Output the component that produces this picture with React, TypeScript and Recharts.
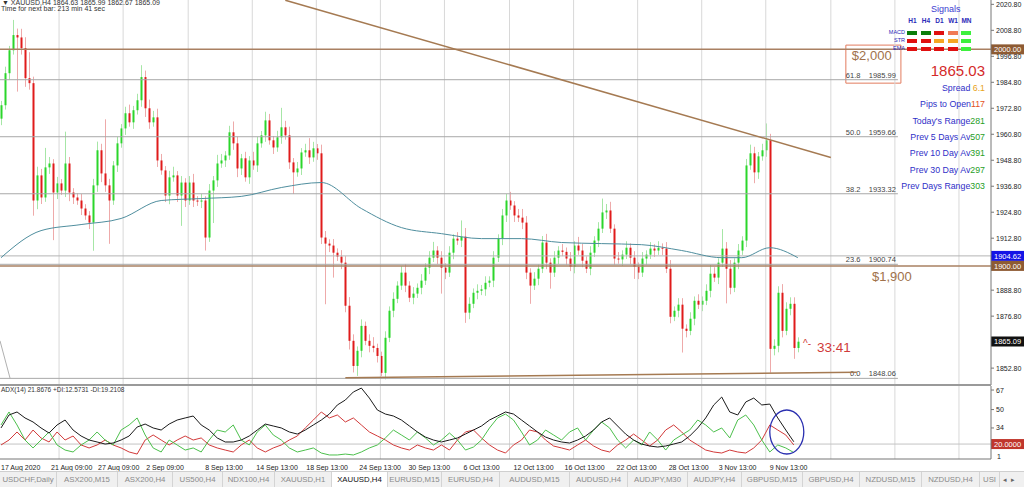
import React from 'react';
import { ComposedChart, Bar, Line, XAxis, YAxis, ReferenceLine, ReferenceArea, ReferenceDot } from 'recharts';

// XAUUSD H4 closes, left to right (one candle per 4px slot)
const closes = [
  1974.2, 1989.0, 1999.6, 2006.6, 2005.5, 2000.6, 1986.7, 1984.4, 1930.2, 1941.8,
  1931.6, 1945.5, 1947.3, 1933.9, 1938.1, 1934.8, 1947.3, 1933.9, 1931.6, 1930.2,
  1926.5, 1923.3, 1920.0, 1937.2, 1953.4, 1942.7, 1937.2, 1930.2, 1946.4, 1956.6,
  1963.5, 1970.5, 1966.3, 1971.9, 1976.5, 1987.2, 1972.8, 1966.3, 1968.6, 1948.7,
  1944.1, 1932.5, 1940.9, 1941.8, 1932.5, 1938.5, 1930.2, 1938.5, 1930.2, 1929.7,
  1930.2, 1913.1, 1934.8, 1939.5, 1947.3, 1948.7, 1951.0, 1961.7, 1956.6, 1945.0,
  1949.7, 1940.9, 1948.7, 1946.4, 1956.6, 1960.3, 1967.2, 1958.0, 1954.7, 1959.4,
  1964.0, 1960.3, 1947.8, 1943.2, 1945.0, 1952.4, 1953.4, 1950.1, 1954.3, 1952.0,
  1913.1, 1910.3, 1909.4, 1906.1, 1904.3, 1901.5, 1881.6, 1865.4, 1853.8, 1860.8,
  1872.3, 1865.4, 1863.1, 1862.1, 1858.4, 1850.6, 1866.8, 1879.3, 1884.8, 1890.9,
  1896.9, 1890.9, 1885.3, 1887.2, 1889.9, 1893.2, 1899.2, 1903.8, 1907.1, 1903.8,
  1899.2, 1896.9, 1906.1, 1912.6, 1911.7, 1913.5, 1878.4, 1882.5, 1887.6, 1888.5,
  1889.2, 1892.2, 1893.2, 1903.8, 1912.6, 1923.3, 1930.2, 1927.9, 1923.3, 1922.3,
  1920.0, 1896.9, 1890.9, 1894.1, 1898.7, 1910.8, 1901.5, 1896.9, 1903.8, 1907.1,
  1906.5, 1903.4, 1899.6, 1909.4, 1907.1, 1902.4, 1898.7, 1906.1, 1911.7, 1917.2,
  1924.7, 1925.6, 1917.2, 1903.4, 1903.0, 1905.2, 1908.4, 1903.8, 1899.6, 1896.9,
  1903.4, 1905.2, 1908.0, 1907.1, 1908.4, 1908.0, 1898.7, 1876.5, 1879.3, 1882.1,
  1871.0, 1870.0, 1875.6, 1883.9, 1882.1, 1883.9, 1888.5, 1896.4, 1894.6, 1901.5,
  1908.0, 1898.7, 1889.9, 1901.5, 1907.1, 1911.7, 1946.4, 1952.0, 1943.2, 1950.6,
  1953.4, 1958.0, 1861.7, 1863.1, 1887.6, 1870.0, 1880.2, 1882.5, 1862.1, 1865.0,
];
const firstOpen = 1968.0;

// upper / lower wick lengths (price units) for each candle
const wickHi = [
  2, 3, 2, 7, 3, 4, 5, 12, 3, 4,
  3, 9, 3, 2, 3, 2, 14.7, 3, 2, 2,
  3, 2, 2, 3, 4, 3, 25, 3, 2, 3,
  2, 3, 4, 2, 3, 5.5, 3, 4, 3, 4,
  3, 2, 3, 4, 2, 3, 2, 3, 4, 2,
  3, 2, 3, 2, 4, 3, 2, 3, 5, 3,
  2, 3, 2, 4, 3, 2, 4, 3, 2, 3,
  9, 3, 4, 2, 3, 2, 3, 5.6, 3, 2,
  4, 3, 2, 3, 2, 3, 3, 4, 3, 2,
  3, 2, 3, 4, 2, 2, 3, 2, 3, 2,
  3, 4, 2, 3, 2, 3, 2, 3, 4, 2,
  3, 2, 3, 2, 3, 7.5, 4, 3, 2, 3,
  2, 3, 2, 3, 2, 3, 3, 4, 2, 3,
  4, 3, 2, 3, 2, 3, 4, 2, 3, 2,
  3, 2, 3, 2, 4, 3, 2, 3, 2, 3,
  6.4, 3, 4, 2, 3, 2, 3, 2, 3, 2,
  3, 2, 3, 2, 3, 2, 3, 4, 2, 3,
  3, 2, 3, 2, 3, 2, 3, 4, 3, 2,
  9, 3, 4, 2, 3, 2, 3, 4, 3, 2,
  3, 7.8, 3, 3, 3, 4, 3, 3, 3, 2,
];
const wickLo = [
  3, 2, 3, 2, 25, 3, 4, 3, 7, 4,
  3, 2, 3, 22, 3, 2, 3, 4, 3, 2,
  3, 2, 3, 13, 3, 4, 3, 20, 2, 3,
  2, 3, 2, 3, 2, 3, 4, 3, 2, 3,
  2, 3, 4, 2, 3, 14, 3, 2, 3, 2,
  3, 6, 2, 15, 3, 2, 3, 2, 3, 4,
  3, 2, 3, 2, 3, 2, 3, 2, 3, 2,
  3, 2, 3, 10, 2, 3, 2, 3, 2, 3,
  3, 28, 3, 11.5, 2, 3, 3, 4, 3, 4.6,
  3, 2, 3, 2, 3, 1.5, 3, 2, 3, 2,
  2, 3, 2, 3, 2, 3, 2, 3, 2, 3,
  12, 3, 2, 3, 2, 3, 4.7, 3, 2, 3,
  2, 3, 2, 3, 2, 3, 3, 2, 3, 2,
  3, 3, 8.4, 2, 3, 2, 3, 7.4, 2, 3,
  2, 3, 2, 3, 2, 3, 2, 3, 2, 3,
  2, 3, 2, 3, 2, 3, 2, 3, 5.6, 3,
  2, 3, 2, 3, 2, 3, 2, 3, 2, 3,
  11, 3, 2, 3, 2, 3, 2, 3, 2, 3,
  2, 16, 3, 2, 3, 2, 3, 2, 5, 3,
  2, 3, 11, 3, 3, 3, 2, 3, 5, 2,
];

// moving average, read at a few candle positions
const maIdx = [0, 10, 20, 30, 40, 50, 60, 70, 80, 90, 100, 110, 120, 130, 140, 150, 160, 170, 180, 185, 192, 199];
const maVals = [1903.8, 1916.3, 1919.1, 1921.9, 1930.2, 1931.1, 1932.1, 1936.2, 1938.5, 1926.5, 1917.7, 1914.9, 1912.6, 1912.6, 1910.8, 1910.3, 1909.8, 1907.1, 1903.8, 1903.8, 1908.4, 1903.8];

// ADX(14) panel, one value every 2 candles
const adx = [
  34.0, 45.3, 47.9, 42.7, 39.2, 34.0, 29.6, 36.6, 40.9, 32.2,
  27.0, 23.5, 21.8, 20.0, 20.9, 23.5, 27.0, 34.8, 37.4, 34.0,
  32.2, 37.4, 40.9, 42.7, 44.4, 36.6, 32.2, 25.3, 21.8, 21.8,
  23.5, 27.0, 32.2, 37.4, 35.7, 34.0, 30.5, 28.7, 32.2, 36.6,
  40.9, 46.1, 54.0, 58.3, 65.3, 68.7, 60.0, 49.6, 46.1, 44.4,
  40.9, 35.7, 30.5, 26.1, 23.5, 21.8, 23.5, 25.3, 28.7, 32.2,
  35.7, 40.9, 44.4, 47.9, 46.1, 40.9, 35.7, 30.5, 26.1, 23.5,
  21.8, 20.9, 23.5, 27.0, 32.2, 39.2, 42.7, 35.7, 28.7, 23.5,
  20.0, 18.3, 17.4, 18.3, 20.0, 21.8, 27.0, 34.0, 42.7, 54.0,
  60.9, 47.9, 45.3, 56.6, 60.0, 54.0, 54.8, 42.7, 32.2, 22.0,
];
const plusDI = [
  36.6, 47.9, 36.6, 23.5, 16.6, 23.5, 30.5, 19.2, 14.8, 13.1,
  19.2, 23.5, 30.5, 23.5, 19.2, 32.2, 36.6, 42.7, 27.9, 16.6,
  13.1, 23.5, 19.2, 14.8, 16.6, 13.1, 23.5, 32.2, 30.5, 36.6,
  23.5, 19.2, 30.5, 36.6, 27.9, 23.5, 16.6, 13.1, 14.8, 16.6,
  12.2, 10.5, 10.5, 11.3, 10.5, 13.1, 16.6, 19.2, 25.3, 32.2,
  27.9, 23.5, 30.5, 25.3, 19.2, 23.5, 29.6, 23.5, 14.8, 17.4,
  23.5, 34.0, 42.7, 46.1, 40.9, 30.5, 19.2, 23.5, 32.2, 27.9,
  23.5, 30.5, 34.0, 23.5, 32.2, 39.2, 34.0, 23.5, 16.6, 23.5,
  19.2, 30.5, 23.5, 14.8, 23.5, 27.9, 32.2, 40.9, 36.6, 30.5,
  34.0, 25.3, 40.9, 45.3, 36.6, 23.5, 13.1, 19.2, 16.6, 12.6,
];
const minusDI = [
  19.2, 23.5, 30.5, 23.5, 32.2, 25.3, 21.8, 30.5, 23.5, 27.0,
  19.2, 16.6, 19.2, 23.5, 19.2, 16.6, 13.1, 11.3, 23.5, 27.9,
  23.5, 19.2, 23.5, 27.0, 23.5, 25.3, 19.2, 16.6, 14.8, 13.1,
  19.2, 23.5, 16.6, 13.1, 16.6, 19.2, 23.5, 27.0, 34.0, 40.9,
  47.9, 42.7, 45.3, 39.2, 42.7, 36.6, 30.5, 27.0, 23.5, 19.2,
  16.6, 14.8, 19.2, 16.6, 14.8, 19.2, 14.8, 23.5, 30.5, 32.2,
  25.3, 19.2, 14.8, 12.2, 19.2, 23.5, 32.2, 30.5, 23.5, 18.3,
  16.6, 14.8, 19.2, 23.5, 18.3, 14.8, 13.1, 19.2, 23.5, 28.7,
  23.5, 18.3, 23.5, 32.2, 36.6, 30.5, 23.5, 19.2, 14.8, 13.1,
  12.2, 14.8, 13.1, 12.2, 16.6, 23.5, 36.6, 32.2, 27.9, 19.2,
];

// 1900.80 and 1864.80 sit under the price tags, so they are not drawn
const priceTicks = [2020.8, 2008.8, 1996.8, 1984.8, 1972.8, 1960.8, 1948.8, 1936.8, 1924.8, 1912.8, 1888.8, 1876.8, 1852.8];
const adxTicks = [67, 50, 34];

const fibLevels = ['61.8', '50.0', '38.2', '23.6', '0.0'];
const fibPrices = [1985.99, 1959.66, 1933.32, 1900.74, 1848.06];

const xTickIdx = [-0.25, 12.25, 24, 36, 50.75, 63.5, 76, 89.25, 101.5, 115.25, 127.75, 140.5, 153.5, 166.5, 179, 191.75];
const xTickLabels = ['17 Aug 2020', '21 Aug 09:00', '27 Aug 09:00', '2 Sep 09:00', '8 Sep 13:00', '14 Sep 13:00', '18 Sep 13:00', '24 Sep 13:00', '30 Sep 13:00', '6 Oct 13:00', '12 Oct 13:00', '16 Oct 13:00', '22 Oct 13:00', '28 Oct 13:00', '3 Nov 13:00', '9 Nov 13:00'];

const gridIdx = [14.5, 30.5, 46.75, 62.75, 78.75, 94.75, 110.75, 127, 143, 159, 175, 191, 207.25, 223.25, 239.25];

const signalFrames = ['H1', 'H4', 'D1', 'W1', 'MN'];
const signalRows = ['MACD', 'STR', 'EMA'];
const signalColors = [
  ['#0b7d0b', '#0b7d0b', '#e01010', '#f07a55', '#3df03d'],
  ['#e01010', '#e01010', '#f5a623', '#f5a623', '#3df03d'],
  ['#e01010', '#e01010', '#e01010', '#e01010', '#3df03d'],
];
const statLabels = ['Spread ', 'Pips to Open', "Today's Range", 'Prev 5 Days Av', 'Prev 10 Day Av', 'Prev 30 Day Av', 'Prev Days Range'];
const statValues = ['6.1', '117', '281', '507', '391', '297', '303'];
const statColors = ['#e8a31a', '#e4501c', '#1f9e1f', '#1f9e1f', '#1f9e1f', '#1f9e1f', '#1f9e1f'];

const tabNames = ['USDCHF,Daily', 'ASX200,M15', 'ASX200,H4', 'US500,H4', 'NDX100,H4', 'XAUUSD,H1', 'XAUUSD,H4', 'EURUSD,M15', 'EURUSD,H4', 'AUDUSD,M15', 'AUDUSD,H4', 'AUDJPY,M30', 'AUDJPY,H4', 'GBPUSD,M15', 'GBPUSD,H4', 'NZDUSD,M15', 'NZDUSD,H4', 'USI'];
const tabWidths = [57, 61, 55, 50, 52, 57, 56, 54, 58, 70, 58, 60, 54, 61, 57, 62, 58, 20];

const candles = closes.map((close, i) => {
  const open = i === 0 ? firstOpen : closes[i - 1];
  const high = Math.max(open, close) + wickHi[i];
  const low = Math.min(open, close) - wickLo[i];
  const m = maIdx.indexOf(i);
  return { i, open, close, high, low, range: [low, high], ma: m >= 0 ? maVals[m] : null };
});

const adxData = adx.map((v, k) => ({ i: k * 2, adx: v, pdi: plusDI[k], mdi: minusDI[k] }));

const FONT = '"Liberation Sans", Arial, sans-serif';
const X_DOMAIN = [-0.25, 247.25];

function Candle(props: any) {
  const { x, y, width, height } = props;
  const d = props.payload ?? props;
  if (d == null || d.high == null) return null;
  const top = Math.min(y, y + height);
  const h = Math.abs(height);
  const span = d.high - d.low || 1;
  const yOf = (v: number) => top + ((d.high - v) / span) * h;
  const up = d.close >= d.open;
  const cx = Math.round(x + width / 2);
  const bTop = yOf(Math.max(d.open, d.close));
  const bBot = yOf(Math.min(d.open, d.close));
  return (
    <g>
      <rect x={cx} y={top} width={1} height={h} fill={up ? '#a6e6a6' : '#eeaaaa'} />
      <rect x={cx - 0.5} y={bTop} width={2} height={Math.max(1, bBot - bTop)} fill={up ? '#2bd62b' : '#e01b1b'} />
    </g>
  );
}

const axisTag = (text: string, bg: string) => (p: any) => {
  const vb = p.viewBox || {};
  const right = (vb.x ?? 0) + (vb.width ?? 0);
  const yy = vb.y ?? 0;
  return (
    <g>
      <rect x={right} y={yy - 5} width={33} height={10} fill={bg} />
      <text x={right + 3} y={yy + 3} fontSize={7.5} fontFamily={FONT} fill="#fff">{text}</text>
    </g>
  );
};

const fibLabel = (lvl: string, price: number) => (p: any) => {
  const vb = p.viewBox || {};
  const right = (vb.x ?? 0) + (vb.width ?? 0);
  const yy = vb.y ?? 0;
  return (
    <text x={right - 2} y={yy - 2} fontSize={7.5} fontFamily={FONT} fill="#444" textAnchor="end">
      {lvl + '\u00a0\u00a0\u00a0\u00a0' + price.toFixed(2)}
    </text>
  );
};

function XTick(props: any) {
  const { x, y, payload } = props;
  const k = xTickIdx.indexOf(payload.value);
  return (
    <text x={x + 1} y={y + 3} fontSize={7} fontFamily={FONT} fill="#222" textAnchor="start">
      {k >= 0 ? xTickLabels[k] : ''}
    </text>
  );
}

const abs = (left: number, top: number, extra: React.CSSProperties = {}): React.CSSProperties => ({
  position: 'absolute', left, top, fontFamily: FONT, whiteSpace: 'nowrap', lineHeight: 1, ...extra,
});

export default function App() {
  return (
    <div style={{ position: 'absolute', left: 0, top: 0, width: 1024, height: 487, background: '#fff', overflow: 'hidden' }}>
      <div style={{ position: 'absolute', left: 0, top: 0 }}>
        <ComposedChart width={1024} height={385} data={candles} margin={{ top: 0, right: 0, bottom: 0, left: 0 }}>
          <XAxis dataKey="i" type="number" domain={X_DOMAIN} hide allowDataOverflow />
          <YAxis
            orientation="right"
            domain={[1845, 2022.8]}
            ticks={priceTicks}
            interval={0}
            width={33}
            allowDataOverflow
            tickSize={3}
            tickMargin={2}
            tick={{ fontSize: 7, fill: '#222', fontFamily: FONT }}
            tickFormatter={(v: number) => v.toFixed(2)}
            axisLine={{ stroke: '#777' }}
            tickLine={{ stroke: '#777' }}
          />
          {gridIdx.map((g) => (
            <ReferenceLine key={'g' + g} x={g} stroke="#d8d8d8" ifOverflow="visible" />
          ))}
          {fibPrices.map((p, k) => (
            <ReferenceLine
              key={'f' + k}
              segment={[{ x: X_DOMAIN[0], y: p }, { x: 224, y: p }]}
              stroke="#a8a8a8"
              ifOverflow="visible"
              label={fibLabel(fibLevels[k], p)}
            />
          ))}
          <ReferenceLine segment={[{ x: -0.25, y: 1865.4 }, { x: 2.25, y: 1848.2 }]} stroke="#b0b0b0" ifOverflow="visible" />
          <ReferenceLine y={1904.62} stroke="#b4b4b4" ifOverflow="visible" label={axisTag('1904.62', '#1414e6')} />
          <ReferenceLine y={2000} stroke="#a98062" strokeWidth={1.5} ifOverflow="visible" label={axisTag('2000.00', '#8e5b33')} />
          <ReferenceLine y={1900} stroke="#a98062" strokeWidth={1.5} ifOverflow="visible" label={axisTag('1900.00', '#8e5b33')} />
          <ReferenceLine y={1865.09} stroke="none" ifOverflow="visible" label={axisTag('1865.09', '#111')} />
          <ReferenceArea x1={211} x2={224.75} y1={1984.4} y2={2001.97} fill="none" stroke="#e27b5e" ifOverflow="visible"
            label={{ value: '$2,000', position: 'insideTopLeft', offset: 6, fontSize: 13, fill: '#a0714a', fontFamily: FONT }} />
          <Line dataKey="ma" type="monotone" stroke="#4f8e9e" strokeWidth={1} dot={false} activeDot={false} connectNulls isAnimationActive={false} />
          <Bar dataKey="range" barSize={2} shape={(p: any) => <Candle {...p} />} isAnimationActive={false} />
          <ReferenceLine segment={[{ x: 71, y: 2022.7 }, { x: 207.25, y: 1950.1 }]} stroke="#a57a52" strokeWidth={1.5} ifOverflow="visible" />
          <ReferenceLine segment={[{ x: 86, y: 1848.4 }, { x: 213.75, y: 1850.9 }]} stroke="#a57a52" strokeWidth={1.5} ifOverflow="visible" />
        </ComposedChart>
      </div>

      <div style={{ position: 'absolute', left: 0, top: 384, width: 991, height: 2, background: '#9a9a9a' }} />

      <div style={{ position: 'absolute', left: 0, top: 385 }}>
        <ComposedChart width={1024} height={86} data={adxData} margin={{ top: 1, right: 0, bottom: 0, left: 0 }}>
          <XAxis
            dataKey="i"
            type="number"
            domain={X_DOMAIN}
            allowDataOverflow
            ticks={xTickIdx}
            interval={0}
            height={12}
            tickLine={false}
            tick={<XTick />}
            axisLine={{ stroke: '#777' }}
          />
          <YAxis
            orientation="right"
            domain={[7, 70.5]}
            ticks={adxTicks}
            interval={0}
            width={33}
            allowDataOverflow
            tickSize={3}
            tickMargin={2}
            tick={{ fontSize: 7, fill: '#222', fontFamily: FONT }}
            axisLine={{ stroke: '#777' }}
            tickLine={{ stroke: '#777' }}
          />
          {gridIdx.map((g) => (
            <ReferenceLine key={'ag' + g} x={g} stroke="#d8d8d8" ifOverflow="visible" />
          ))}
          <ReferenceLine y={20} stroke="#c4c4c4" ifOverflow="visible" label={axisTag('20.0000', '#c0362c')} />
          <Line dataKey="mdi" type="linear" stroke="#d23a3a" strokeWidth={1} dot={false} activeDot={false} isAnimationActive={false} />
          <Line dataKey="pdi" type="linear" stroke="#4cc04c" strokeWidth={1} dot={false} activeDot={false} isAnimationActive={false} />
          <Line dataKey="adx" type="linear" stroke="#1a1a1a" strokeWidth={1} dot={false} activeDot={false} isAnimationActive={false} />
          <ReferenceDot
            x={196.25}
            y={30.5}
            r={1}
            ifOverflow="visible"
            shape={(p: any) => <ellipse cx={p.cx} cy={p.cy} rx={17} ry={22} fill="none" stroke="#2a2fb0" strokeWidth={1.3} />}
          />
        </ComposedChart>
      </div>

      {/* header */}
      <div style={abs(2, -1, { fontSize: 7, color: '#333' })}>▼ XAUUSD,H4 1864.63 1865.99 1862.67 1865.09</div>
      <div style={abs(1, 5, { fontSize: 7, color: '#333' })}>Time for next bar: 213 min 41 sec</div>
      <div style={abs(1, 387, { fontSize: 6.5, color: '#333' })}>ADX(14) 21.8676 +DI:12.5731 -DI:19.2108</div>
      <div style={abs(997, 453, { fontSize: 7, color: '#222' })}>1</div>

      {/* annotations */}
      <div style={abs(872, 270, { fontSize: 13, color: '#a0714a' })}>$1,900</div>
      <div style={abs(803, 339, { fontSize: 10, color: '#d03a3a' })}>^-</div>
      <div style={abs(817, 341, { fontSize: 13.5, color: '#d03a3a' })}>33:41</div>

      {/* signals panel */}
      <div style={abs(931, 5, { fontSize: 9, color: '#3b3bd0' })}>Signals</div>
      {signalFrames.map((f, k) => (
        <div key={f} style={abs(907 + k * 13.5, 18, { fontSize: 6.5, color: '#2a2ab8', fontWeight: 'bold', width: 11, textAlign: 'center' })}>{f}</div>
      ))}
      {signalRows.map((r, row) => (
        <React.Fragment key={r}>
          <div style={abs(870, 30 + row * 8, { fontSize: 5.5, color: '#2a2ab8', width: 35, textAlign: 'right' })}>{r}</div>
          {signalColors[row].map((c, k) => (
            <div key={k} style={{ position: 'absolute', left: 907 + k * 13.5, top: 31 + row * 8, width: 10, height: 4, background: c }} />
          ))}
        </React.Fragment>
      ))}
      <div style={abs(925, 63, { fontSize: 15, color: '#d42a2a', width: 60, textAlign: 'right' })}>1865.03</div>
      {statLabels.map((s, k) => (
        <div key={s} style={abs(860, 84 + k * 16.3, { fontSize: 8.8, color: '#2f2fc8', width: 125, textAlign: 'right' })}>
          {s}
          <span style={{ color: statColors[k] }}>{statValues[k]}</span>
        </div>
      ))}

      {/* symbol tabs */}
      <div style={{ position: 'absolute', left: 0, top: 471, width: 1024, height: 16, background: '#f0f0f0', borderTop: '1px solid #cfcfcf', display: 'flex' }}>
        {tabNames.map((t, k) => (
          <div
            key={t}
            style={{
              width: tabWidths[k],
              flex: 'none',
              boxSizing: 'border-box',
              borderRight: '1px solid #d4d4d4',
              background: k === 6 ? '#fff' : 'transparent',
              color: k === 6 ? '#111' : '#8a8a8a',
              fontFamily: FONT,
              fontSize: 7.8,
              lineHeight: '15px',
              textAlign: 'center',
              overflow: 'hidden',
              whiteSpace: 'nowrap',
            }}
          >
            {t}
          </div>
        ))}
        <div style={{ fontFamily: FONT, fontSize: 7, color: '#666', lineHeight: '15px', marginLeft: 3 }}>◂&nbsp;&nbsp;▸</div>
      </div>
    </div>
  );
}
